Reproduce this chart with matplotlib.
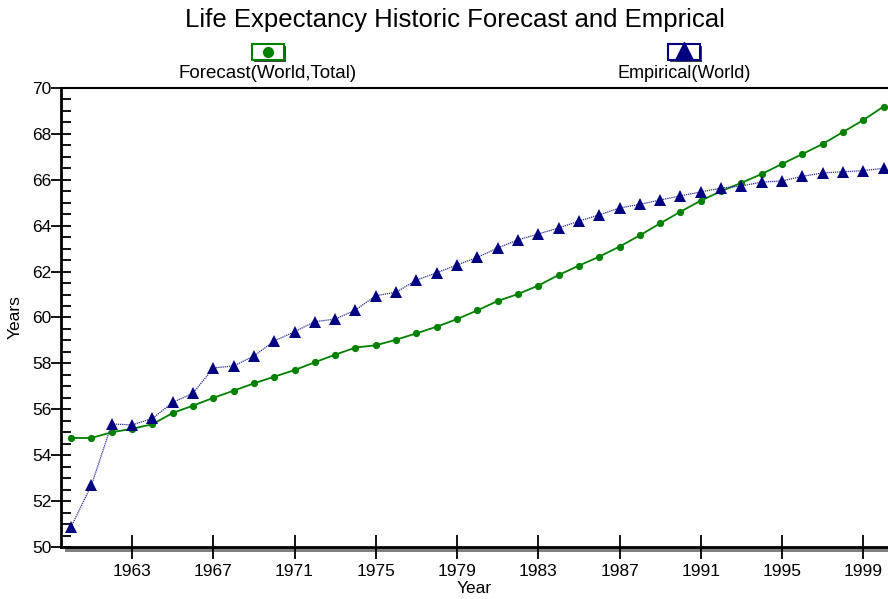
import matplotlib
matplotlib.use("Agg")
import matplotlib.pyplot as plt
from matplotlib.patches import Rectangle
from matplotlib.lines import Line2D
from matplotlib.ticker import MultipleLocator

plt.rcParams["font.family"] = ["Liberation Sans", "DejaVu Sans"]

# yearly values
years = list(range(1960, 2001))

forecast = [54.75, 54.75, 55.0, 55.15, 55.35, 55.84, 56.16, 56.5, 56.81, 57.13,
            57.42, 57.71, 58.05, 58.38, 58.69, 58.79, 59.03, 59.31, 59.6, 59.93,
            60.31, 60.72, 61.02, 61.39, 61.85, 62.26, 62.65, 63.09, 63.58, 64.1,
            64.61, 65.09, 65.5, 65.87, 66.25, 66.69, 67.12, 67.56, 68.08, 68.6,
            69.19]

empirical = [50.88, 52.7, 55.36, 55.32, 55.6, 56.3, 56.7, 57.8, 57.89, 58.32,
             58.98, 59.38, 59.82, 59.93, 60.33, 60.95, 61.1, 61.63, 61.95, 62.29,
             62.62, 63.03, 63.38, 63.64, 63.9, 64.2, 64.47, 64.77, 64.93, 65.12,
             65.3, 65.47, 65.64, 65.73, 65.9, 65.95, 66.15, 66.3, 66.35, 66.4,
             66.5]

xticks = [1963, 1967, 1971, 1975, 1979, 1983, 1987, 1991, 1995, 1999]

green = "#008000"
navy = "#000080"

fig = plt.figure(figsize=(8.88, 5.99), dpi=100)
ax = fig.add_axes([61 / 888, 1 - 547 / 599, 1 - 61 / 888, (547 - 88) / 599])

ax.plot(years, forecast, color=green, lw=1.3, marker="o", markersize=5.2,
        markeredgewidth=0, zorder=3)
ax.plot(years, empirical, color="#2a2a9a", lw=0.9, linestyle=(0, (1, 0.7)),
        marker="^", markersize=9, markerfacecolor=navy, markeredgewidth=0, zorder=4)

ax.set_xlim(1959.5, 2000.22)
ax.set_ylim(50, 70)
ax.set_xticks(xticks)
ax.yaxis.set_major_locator(MultipleLocator(2))
ax.yaxis.set_minor_locator(MultipleLocator(0.5))

ax.tick_params(axis="y", which="major", direction="inout", length=14, width=1.3,
               labelsize=12.5, pad=0)
ax.tick_params(axis="y", which="minor", direction="in", length=7, width=1.3)
ax.tick_params(axis="x", which="major", direction="inout", length=17, width=1.3,
               labelsize=12.5, pad=4)

for side in ["left", "bottom"]:
    ax.spines[side].set_linewidth(2)
ax.spines["top"].set_linewidth(1.5)
ax.spines["right"].set_visible(False)

# gray shadow under the x axis
ax.add_patch(Rectangle((4 / 827, -5 / 459), 1, 4 / 459, transform=ax.transAxes,
                       facecolor="#808080", edgecolor="none", clip_on=False))

ax.set_xlabel("Year", fontsize=12.5, labelpad=1)
ax.set_ylabel("Years", fontsize=12.5, labelpad=7)

fig.text(455 / 888, 1 - 20 / 599, "Life Expectancy Historic Forecast and Emprical",
         ha="center", va="center", fontsize=18.5)

# legend: symbol boxes above labels
legend_items = [("Forecast(World,Total)", green, "o", 268, 7, 13.5),
                ("Empirical(World)", navy, "^", 684, 13, 13)]
for label, color, marker, cx, ms, fs in legend_items:
    bx, by, bw, bh = cx - 16, 599 - 60, 32, 16
    # dark drop shadow, then the box
    fig.add_artist(Rectangle(((bx + 2) / 888, (by - 2) / 599), bw / 888, bh / 599,
                             transform=fig.transFigure, facecolor="#404040",
                             edgecolor="none"))
    fig.add_artist(Rectangle((bx / 888, by / 599), bw / 888, bh / 599,
                             transform=fig.transFigure, facecolor="white",
                             edgecolor=color, lw=1.5))
    my = by + bh / 2 if marker == "o" else by + bh / 2 + 1
    fig.add_artist(Line2D([cx / 888], [my / 599], transform=fig.transFigure,
                          marker=marker, markersize=ms, color=color, lw=0))
    fig.text(cx / 888, 1 - 73 / 599, label, ha="center", va="center", fontsize=fs)

fig.savefig("out.png", dpi=100)
